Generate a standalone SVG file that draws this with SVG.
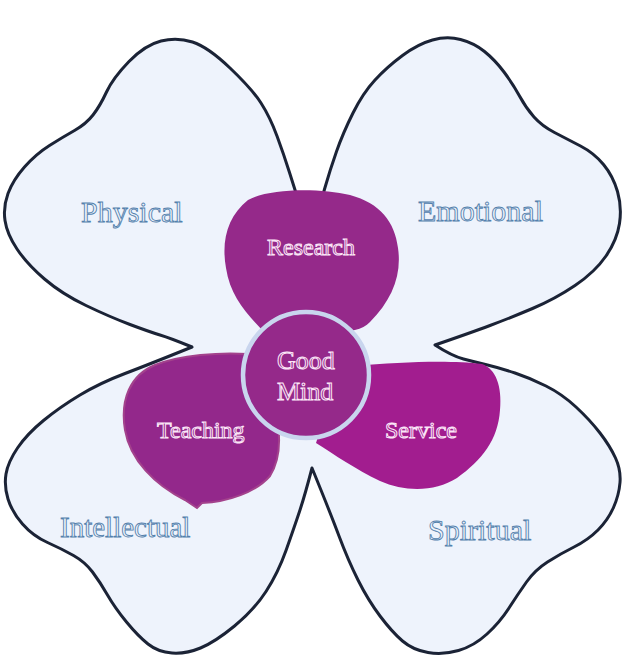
<svg xmlns="http://www.w3.org/2000/svg" width="628" height="660" viewBox="0 0 628 660">
<style>
.petal{fill:#eef3fc;stroke:#1b2336;stroke-width:3;stroke-linejoin:round}
.lbl{font-family:"Liberation Serif","Times New Roman",serif;font-size:30px;fill:#eef3fb;stroke:#5481ad;stroke-width:0.9}
.wl{font-family:"Liberation Serif","Times New Roman",serif;font-size:24px;fill:#a0409a;stroke:#fbe6f7;stroke-width:1}
</style>
<rect width="628" height="660" fill="#ffffff"/>
<g id="flower">
<path class="petal" d="M311,235 Q320,205 325,187.5 Q330,170 336.5,151.5 Q343,133 353,113 Q363,93 375,80 Q387,67 402.5,55.5 Q418,44 432.5,40 Q447,36 460.5,39.5 Q474,43 484.5,51.5 Q495,60 504,72 Q513,84 519.5,96 Q526,108 534,117 Q542,126 554.5,132.5 Q567,139 580.5,146 Q594,153 603.5,164.5 Q613,176 617.5,191.5 Q622,207 619.5,223.5 Q617,240 606,256 Q595,272 575,285.5 Q555,299 532.5,308.5 Q510,318 490,325.5 Q470,333 435,345 Q452,356 463.5,359 Q475,362 487.5,365 Q500,368 515,373 Q530,378 546,386 Q562,394 576,407 Q590,420 600,433 Q610,446 615.5,458 Q621,470 620,482.5 Q619,495 613.5,507.5 Q608,520 598,530 Q588,540 574,547 Q560,554 547.5,562 Q535,570 526.5,582 Q518,594 509,608 Q500,622 487,634 Q474,646 458.5,650.5 Q443,655 428,652.5 Q413,650 402.5,641 Q392,632 380,616 Q368,600 358,580 Q348,560 339,536 Q330,512 312,468 Q305,495 299.5,511.5 Q294,528 286,550.5 Q278,573 266,591.5 Q254,610 234.5,626 Q215,642 200.5,648 Q186,654 172,653 Q158,652 148,644 Q138,636 126.5,622 Q115,608 107.5,595 Q100,582 92.5,572 Q85,562 73.5,555.5 Q62,549 47.5,542.5 Q33,536 22.5,524 Q12,512 8,499 Q4,486 6,474 Q8,462 17.5,448 Q27,434 43.5,420.5 Q60,407 80,395 Q100,383 125,373.5 Q150,364 192,347 Q170,338 160,335 Q150,332 130,324.5 Q110,317 86,305.5 Q62,294 44.5,279 Q27,264 17,249 Q7,234 5,220.5 Q3,207 8,193.5 Q13,180 24.5,167 Q36,154 49.5,145.5 Q63,137 74.5,130.5 Q86,124 93,115 Q100,106 106.5,92 Q113,78 129,61.5 Q145,45 161,41 Q177,37 192.5,42 Q208,47 230,68 Q252,89 261,103 Q270,117 277,136 Q284,155 289.5,172.5 Q295,190 299,202.5 Q303,215 311,235 Z"/>
</g>
<g id="physical"><text class="lbl" x="81" y="222">Physical</text></g>
<g id="emotional"><text class="lbl" x="418" y="221">Emotional</text></g>
<g id="intellectual"><text class="lbl" x="60" y="537" style="font-size:29px">Intellectual</text></g>
<g id="spiritual"><text class="lbl" x="428" y="540">Spiritual</text></g>
<g id="research">
<path fill="#95298a" d="M262,330 C245,312 230,295 226,268 C221,240 228,216 248,200 C270,188 320,188 350,195 C380,203 395,222 398,248 C402,275 392,300 370,322 C355,338 320,330 262,330 Z"/>
<text class="wl" x="267" y="255" style="fill:#95298a">Research</text>
</g>
<g id="teaching">
<path fill="#93288b" stroke="#a3428c" stroke-width="2" d="M248,354 C220,352 180,355 155,365 C130,375 120,400 125,430 C130,460 155,485 185,500 L197,508 L202,503 C228,502 256,492 270,476 C280,460 280,440 278,425 L290,400 Z"/>
<text class="wl" x="157" y="438" style="fill:#93288b">Teaching</text>
</g>
<g id="service">
<path fill="#a21d8f" d="M355,366 C400,362 450,360 482,364 C496,369 502,386 500,410 C498,440 482,460 457,478 C435,492 405,492 380,481 C355,469 335,455 316,443 L330,400 Z"/>
<text class="wl" x="385" y="438" style="fill:#a21d8f">Service</text>
</g>
<g id="good-mind">
<circle cx="306" cy="375" r="63" fill="#95298a" stroke="#c9d5ee" stroke-width="4.5"/>
<text class="wl" x="277" y="369" style="font-size:26px;fill:#95298a">Good</text>
<text class="wl" x="277" y="400" style="font-size:26px;fill:#95298a">Mind</text>
</g>
<g id="connectors"/>
</svg>
